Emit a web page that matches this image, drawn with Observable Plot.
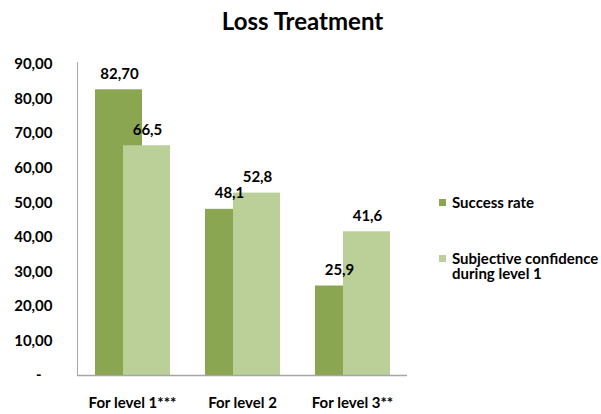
<!DOCTYPE html>
<html>
<head>
<meta charset="utf-8">
<script src="https://cdn.jsdelivr.net/npm/d3@7"></script>
<script src="https://cdn.jsdelivr.net/npm/@observablehq/plot@0.6"></script>
<style>
  html, body { margin: 0; padding: 0; background: #fff; }
  #wrap { position: relative; width: 601px; height: 414px; font-family: Lato, "Open Sans", sans-serif; }
  #title { height: 44px; line-height: 42px; text-align: center; font-weight: 700; font-size: 24px; color: #000; padding-left: 4px; box-sizing: border-box; }
  #legend { position: absolute; left: 439px; top: 195px; font-weight: 700; font-size: 15px; color: #000; }
  .item { position: relative; padding-left: 13px; line-height: 15px; }
  .item .sw { position: absolute; left: 0; top: 4px; width: 7px; height: 7px; }
  svg { display: block; }
</style>
</head>
<body>
<div id="wrap">
  <div id="title">Loss Treatment</div>
  <div id="chart"></div>
  <div id="legend"></div>
</div>
<script>
// Levels on the x axis
const categories = ["For level 1***", "For level 2", "For level 3**"];
// Series values (percent) and their printed labels
const successRate = [82.70, 48.1, 25.9];
const successLabels = ["82,70", "48,1", "25,9"];
const confidence = [66.5, 52.8, 41.6];
const confidenceLabels = ["66,5", "52,8", "41,6"];
const seriesNames = ["Success rate", "Subjective confidence during level 1"];
const seriesColors = ["#8aa650", "#bbcf99"];
const yTicks = [0, 10, 20, 30, 40, 50, 60, 70, 80, 90];

const successRows = categories.map((c, i) => ({level: c, value: successRate[i], label: successLabels[i]}));
const confidenceRows = categories.map((c, i) => ({level: c, value: confidence[i], label: confidenceLabels[i]}));

const fmt = d => d === 0 ? "-\u00a0\u00a0\u00a0" : d.toFixed(2).replace(".", ",");

const chart = Plot.plot({
  width: 601,
  height: 370,
  marginLeft: 77,
  marginRight: 194,
  marginTop: 18,
  marginBottom: 39,
  style: {fontFamily: "Lato, 'Open Sans', sans-serif", fontWeight: 700, fontSize: "15px", color: "#000", background: "#fff"},
  x: {domain: categories, padding: 0, label: null},
  y: {domain: [0, 90.6], label: null},
  marks: [
    Plot.barY(successRows, {x: "level", y: "value", fill: seriesColors[0], insetLeft: 18, insetRight: 45}),
    Plot.barY(confidenceRows, {x: "level", y: "value", fill: seriesColors[1], insetLeft: 46, insetRight: 17}),
    Plot.text(successRows, {x: "level", y: "value", text: "label", dx: -13, dy: -16, fill: "#000", fontSize: 15, fontWeight: 700}),
    Plot.text(confidenceRows, {x: "level", y: "value", text: "label", dx: 15, dy: -16, fill: "#000", fontSize: 15, fontWeight: 700}),
    Plot.frame({anchor: "left", stroke: "#a6a6a6", strokeOpacity: 1}),
    Plot.ruleY([0], {stroke: "#a6a6a6", strokeWidth: 1.5}),
    Plot.axisY({ticks: yTicks, tickSize: 0, tickPadding: 25, tickFormat: fmt, fill: "#000", fontSize: 15}),
    Plot.axisX({tickSize: 0, tickPadding: 22, fill: "#000", fontSize: 15})
  ]
});
document.getElementById("chart").appendChild(chart);

// Legend
const legend = document.getElementById("legend");
const legendTops = [0, 56];
seriesNames.forEach((name, i) => {
  const item = document.createElement("div");
  item.className = "item";
  item.style.position = "absolute";
  item.style.top = legendTops[i] + "px";
  item.style.width = "160px";
  const sw = document.createElement("span");
  sw.className = "sw";
  sw.style.background = seriesColors[i];
  item.appendChild(sw);
  item.appendChild(document.createTextNode(name));
  legend.appendChild(item);
});
</script>
</body>
</html>
